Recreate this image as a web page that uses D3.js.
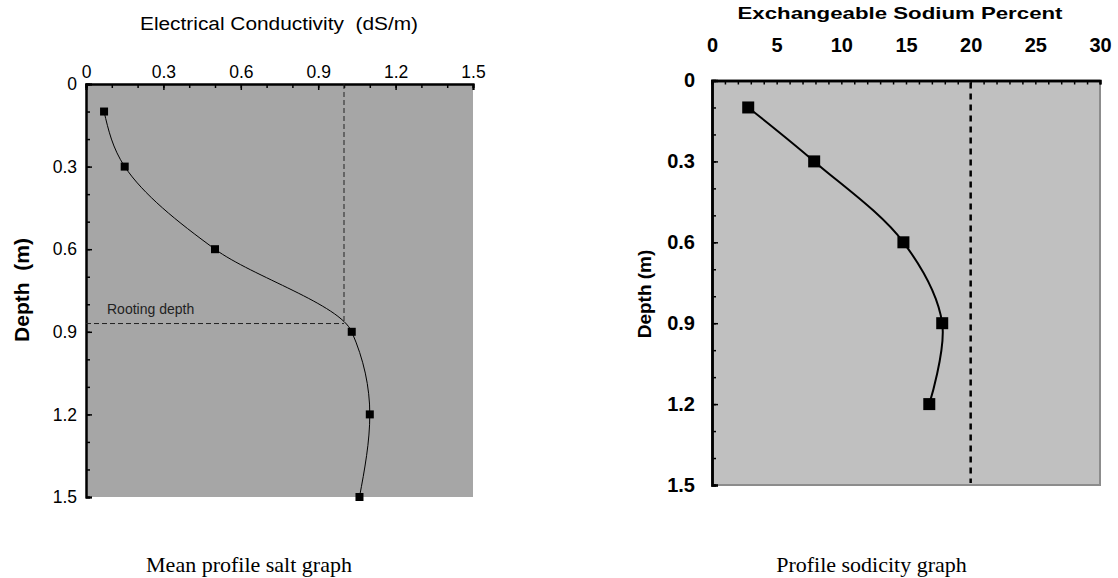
<!DOCTYPE html>
<html>
<head>
<meta charset="utf-8">
<script src="https://cdn.jsdelivr.net/npm/d3@7"></script>
<style>
  html, body { margin: 0; padding: 0; background: #fff; }
  svg { display: block; }
  text { white-space: pre; }
</style>
</head>
<body>
<svg id="chart" width="1118" height="578"></svg>
<script>
// Salinity profile: electrical conductivity (dS/m) against depth (m)
const ecDepths = [0.1, 0.3, 0.6, 0.9, 1.2, 1.5];
const ecValues = [0.07, 0.15, 0.5, 1.03, 1.1, 1.06];
const ecTicks = [0, 0.3, 0.6, 0.9, 1.2, 1.5];
const ecThreshold = 1.0;
const rootingDepth = 0.87;

// Sodicity profile: exchangeable sodium percent against depth (m)
const espDepths = [0.1, 0.3, 0.6, 0.9, 1.2];
const espValues = [2.8, 7.9, 14.8, 17.8, 16.8];
const espTicks = [0, 5, 10, 15, 20, 25, 30];
const espThreshold = 20;

const depthTicks = [0, 0.3, 0.6, 0.9, 1.2, 1.5];

const svg = d3.select("#chart");
const fmt = d => d === 0 ? "0" : d3.format(".1f")(d);

/* ---------- Left panel: Mean profile salt graph ---------- */
{
  const L = { x0: 86, x1: 473, y0: 84, y1: 497 };
  const x = d3.scaleLinear().domain([0, 1.5]).range([L.x0, L.x1]);
  const y = d3.scaleLinear().domain([0, 1.5]).range([L.y0, L.y1]);
  const g = svg.append("g");
  const font = "'Liberation Sans', Arial, Helvetica, sans-serif";

  g.append("rect")
    .attr("x", L.x0).attr("y", L.y0)
    .attr("width", L.x1 - L.x0).attr("height", L.y1 - L.y0)
    .attr("fill", "#a6a6a6");

  // minor ticks every 0.1
  const minor = d3.range(0, 16).map(i => i / 10);
  const top = g.append("g").attr("transform", `translate(0,${L.y0})`);
  top.call(d3.axisTop(x).tickValues(minor).tickSize(-4).tickFormat(""));
  top.append("g").call(d3.axisTop(x).tickValues(ecTicks).tickSize(-6).tickPadding(6).tickFormat(fmt));

  const left = g.append("g").attr("transform", `translate(${L.x0},0)`);
  left.call(d3.axisLeft(y).tickValues(minor).tickSize(-4).tickFormat(""));
  left.append("g").call(d3.axisLeft(y).tickValues(depthTicks).tickSize(-6).tickPadding(9).tickFormat(fmt));

  g.selectAll(".domain").attr("stroke", "#000").attr("stroke-width", 2);
  g.selectAll(".tick line").attr("stroke", "#000").attr("stroke-width", 1.5);
  g.selectAll(".tick text").attr("font-family", font).attr("font-size", 17.5).attr("fill", "#000");

  // guide lines: EC threshold and rooting depth
  g.append("line")
    .attr("x1", x(ecThreshold)).attr("x2", x(ecThreshold))
    .attr("y1", y(0)).attr("y2", y(rootingDepth))
    .attr("stroke", "#222").attr("stroke-width", 1).attr("stroke-dasharray", "5,3");
  g.append("line")
    .attr("x1", x(0)).attr("x2", x(ecThreshold))
    .attr("y1", y(rootingDepth)).attr("y2", y(rootingDepth))
    .attr("stroke", "#222").attr("stroke-width", 1).attr("stroke-dasharray", "5,3");
  g.append("text")
    .attr("x", x(0) + 21).attr("y", y(rootingDepth) - 10)
    .attr("font-family", font).attr("font-size", 14).attr("fill", "#222")
    .text("Rooting depth");

  const pts = ecDepths.map((d, i) => [ecValues[i], d]);
  g.append("path")
    .datum(pts)
    .attr("fill", "none").attr("stroke", "#000").attr("stroke-width", 1)
    .attr("d", d3.line().x(p => x(p[0])).y(p => y(p[1])).curve(d3.curveMonotoneY));
  g.selectAll(".mk").data(pts).join("rect")
    .attr("x", p => x(p[0]) - 4).attr("y", p => y(p[1]) - 4)
    .attr("width", 8).attr("height", 8).attr("fill", "#000");

  g.append("text")
    .attr("x", 279).attr("y", 30).attr("text-anchor", "middle")
    .attr("font-family", font).attr("font-size", 18)
    .attr("textLength", 278).attr("lengthAdjust", "spacingAndGlyphs")
    .text("Electrical Conductivity  (dS/m)");

  g.append("text")
    .attr("transform", `translate(29,290) rotate(-90)`)
    .attr("text-anchor", "middle")
    .attr("font-family", font).attr("font-size", 20).attr("font-weight", "bold")
    .attr("textLength", 104).attr("lengthAdjust", "spacingAndGlyphs")
    .text("Depth  (m)");

  g.append("text")
    .attr("x", 249).attr("y", 572).attr("text-anchor", "middle")
    .attr("font-family", "'Liberation Serif', 'Times New Roman', serif").attr("font-size", 22)
    .text("Mean profile salt graph");
}

/* ---------- Right panel: Profile sodicity graph ---------- */
{
  const R = { x0: 712, x1: 1100, y0: 80.5, y1: 485 };
  const x = d3.scaleLinear().domain([0, 30]).range([R.x0, R.x1]);
  const y = d3.scaleLinear().domain([0, 1.5]).range([R.y0, R.y1]);
  const g = svg.append("g");
  const font = "'Liberation Sans', Arial, Helvetica, sans-serif";

  g.append("rect")
    .attr("x", R.x0).attr("y", R.y0)
    .attr("width", R.x1 - R.x0).attr("height", R.y1 - R.y0)
    .attr("fill", "#c0c0c0");
  // right and bottom frame
  g.append("path")
    .attr("d", `M${R.x1},${R.y0}V${R.y1}H${R.x0}`)
    .attr("fill", "none").attr("stroke", "#8c8c8c").attr("stroke-width", 2);

  const minorX = d3.range(0, 31);
  const top = g.append("g").attr("transform", `translate(0,${R.y0})`);
  top.call(d3.axisTop(x).tickValues(minorX).tickSize(-4).tickFormat(""));
  top.append("g").call(d3.axisTop(x).tickValues(espTicks).tickSize(0).tickPadding(29).tickFormat(d3.format("d")));

  const minorY = d3.range(0, 16).map(i => i / 10);
  const left = g.append("g").attr("transform", `translate(${R.x0},0)`);
  left.call(d3.axisLeft(y).tickValues(minorY).tickSize(-4).tickFormat(""));
  left.append("g").call(d3.axisLeft(y).tickValues(depthTicks).tickSize(-6).tickPadding(17).tickFormat(fmt));

  g.selectAll(".domain").attr("stroke", "#000").attr("stroke-width", 2.5);
  g.selectAll(".tick line").attr("stroke", "#000").attr("stroke-width", 1.5);
  g.selectAll(".tick text").attr("font-family", font).attr("font-size", 20)
    .attr("font-weight", "bold").attr("fill", "#000");

  g.append("line")
    .attr("x1", x(espThreshold)).attr("x2", x(espThreshold))
    .attr("y1", y(0) + 2).attr("y2", y(1.5) - 2)
    .attr("stroke", "#000").attr("stroke-width", 2.5).attr("stroke-dasharray", "6,5");

  const pts = espDepths.map((d, i) => [espValues[i], d]);
  g.append("path")
    .datum(pts)
    .attr("fill", "none").attr("stroke", "#000").attr("stroke-width", 2)
    .attr("d", d3.line().x(p => x(p[0])).y(p => y(p[1])).curve(d3.curveCatmullRom.alpha(0.5)));
  g.selectAll(".mk").data(pts).join("rect")
    .attr("x", p => x(p[0]) - 6).attr("y", p => y(p[1]) - 6)
    .attr("width", 12).attr("height", 12).attr("fill", "#000");

  g.append("text")
    .attr("x", 900).attr("y", 19).attr("text-anchor", "middle")
    .attr("font-family", font).attr("font-size", 17).attr("font-weight", "bold")
    .attr("textLength", 325).attr("lengthAdjust", "spacingAndGlyphs")
    .text("Exchangeable Sodium Percent");

  g.append("text")
    .attr("transform", `translate(651,294) rotate(-90)`)
    .attr("text-anchor", "middle")
    .attr("font-family", font).attr("font-size", 19).attr("font-weight", "bold")
    .text("Depth (m)");

  g.append("text")
    .attr("x", 871.5).attr("y", 572).attr("text-anchor", "middle")
    .attr("font-family", "'Liberation Serif', 'Times New Roman', serif").attr("font-size", 22)
    .text("Profile sodicity graph");
}
</script>
</body>
</html>
